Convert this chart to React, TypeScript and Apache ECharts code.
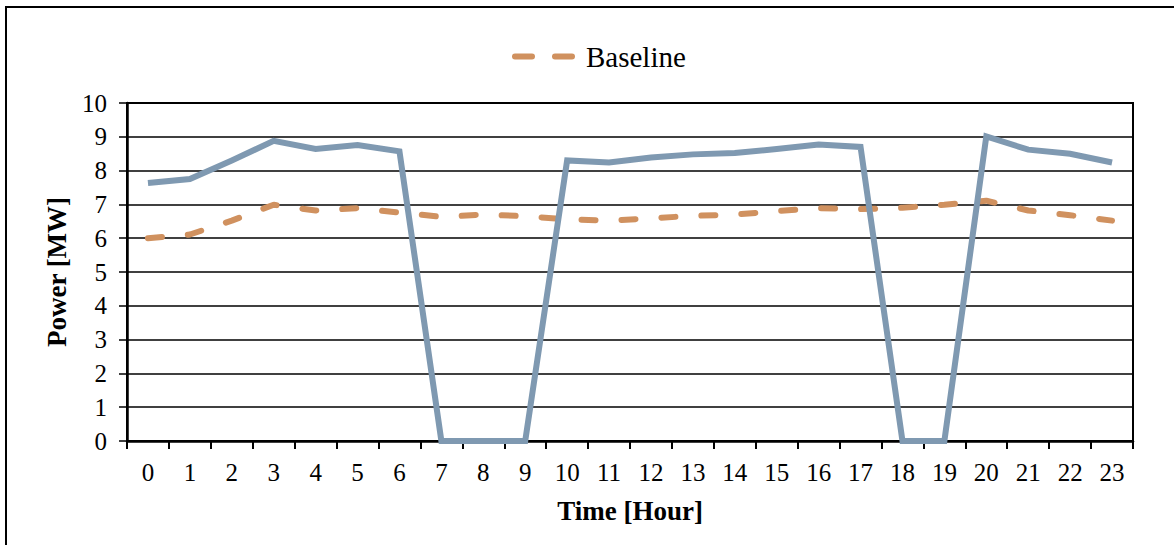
import React, { useEffect, useRef } from "react";
import * as echarts from "echarts";

const hours: string[] = [
  "0", "1", "2", "3", "4", "5", "6", "7", "8", "9", "10", "11",
  "12", "13", "14", "15", "16", "17", "18", "19", "20", "21", "22", "23",
];

const powerSeries: number[] = [
  7.63, 7.75, 8.3, 8.88, 8.64, 8.76, 8.57, 0, 0, 0, 8.3, 8.24,
  8.39, 8.48, 8.52, 8.64, 8.77, 8.7, 0, 0, 9.01, 8.62, 8.5, 8.24,
];

const baselineSeries: number[] = [
  6.0, 6.11, 6.52, 6.99, 6.82, 6.89, 6.76, 6.63, 6.7, 6.65, 6.56, 6.52,
  6.59, 6.66, 6.7, 6.8, 6.89, 6.86, 6.9, 6.99, 7.11, 6.82, 6.68, 6.52,
];

const FONT = "'Liberation Serif', 'Times New Roman', serif";
const SOLID = "#7f99b1";
const DASH = "#d0915f";

export default function App() {
  const ref = useRef<HTMLDivElement>(null);

  useEffect(() => {
    if (!ref.current) return;
    const chart = echarts.init(ref.current, null, { renderer: "svg" });
    chart.setOption({
      animation: false,
      backgroundColor: "#ffffff",
      textStyle: { fontFamily: FONT, color: "#000" },
      graphic: [
        {
          type: "rect",
          shape: { x: 6, y: 7, width: 1300, height: 700 },
          style: { fill: "none", stroke: "#000", lineWidth: 2 },
          silent: true,
          z: 100,
        },
      ],
      legend: {
        data: ["Baseline"],
        left: 507,
        top: 37,
        itemWidth: 63,
        itemHeight: 30,
        itemStyle: { color: "rgba(0,0,0,0)", borderWidth: 0, opacity: 0 },
        lineStyle: { type: [17, 23], width: 6, cap: "round", color: DASH },
        textStyle: {
          fontFamily: FONT,
          fontSize: 29,
          color: "#000",
          padding: [0, 0, 0, 3],
        },
      },
      grid: {
        left: 127,
        right: 41,
        top: 103,
        bottom: 104,
        show: true,
        borderColor: "#000",
        borderWidth: 2,
        backgroundColor: "transparent",
      },
      xAxis: {
        type: "category",
        data: hours,
        boundaryGap: true,
        name: "Time [Hour]",
        nameLocation: "middle",
        nameGap: 56,
        nameTextStyle: { fontFamily: FONT, fontSize: 27, fontWeight: "bold", color: "#000" },
        axisLine: { show: true, lineStyle: { color: "#000", width: 2.5 } },
        axisTick: { show: true, length: 8, lineStyle: { color: "#000", width: 2 } },
        axisLabel: { fontFamily: FONT, fontSize: 25, color: "#000", margin: 19, interval: 0 },
        splitLine: { show: false },
      },
      yAxis: {
        type: "value",
        min: 0,
        max: 10,
        interval: 1,
        name: "Power [MW]",
        nameLocation: "middle",
        nameGap: 57,
        nameTextStyle: { fontFamily: FONT, fontSize: 27, fontWeight: "bold", color: "#000" },
        axisLine: { show: true, lineStyle: { color: "#000", width: 2.5 } },
        axisTick: { show: true, length: 8, lineStyle: { color: "#000", width: 1.5 } },
        axisLabel: { fontFamily: FONT, fontSize: 25, color: "#000", margin: 20 },
        splitLine: { show: true, lineStyle: { color: "#000", width: 1.5 } },
      },
      series: [
        {
          name: "Power",
          type: "line",
          data: powerSeries,
          symbol: "none",
          lineStyle: { color: SOLID, width: 6, join: "miter" },
          itemStyle: { color: SOLID },
          z: 3,
        },
        {
          name: "Baseline",
          type: "line",
          data: baselineSeries,
          symbol: "none",
          lineStyle: { color: DASH, width: 6, type: [14, 26], cap: "round" },
          itemStyle: { color: DASH },
          z: 2,
        },
      ],
    });
    return () => chart.dispose();
  }, []);

  return (
    <div
      ref={ref}
      style={{ position: "absolute", left: 0, top: 0, width: 1174, height: 545 }}
    />
  );
}
